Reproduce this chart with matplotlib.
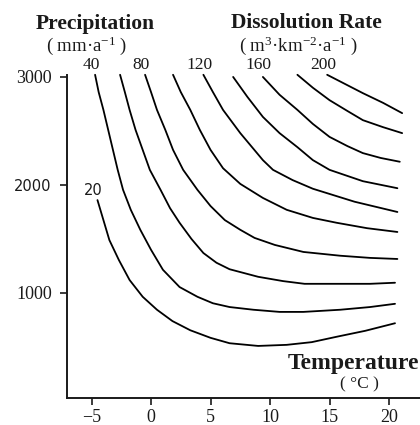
import matplotlib.pyplot as plt

plt.rcParams['mathtext.fontset'] = 'custom'
plt.rcParams['mathtext.rm'] = 'Liberation Serif'
plt.rcParams['mathtext.it'] = 'Liberation Serif:italic'
plt.rcParams['mathtext.bf'] = 'Liberation Serif:bold'

# ---- data: temperature (C) vs precipitation (mm/a) ----
t20 = [-4.5, -4.0, -3.5, -2.7, -1.8, -0.7, 0.5, 1.8, 3.3, 5.0, 6.6, 9.0, 11.4, 13.5, 15.6, 18.0, 20.5]
p20 = [1860, 1675, 1490, 1305, 1120, 965, 845, 740, 655, 585, 535, 510, 520, 545, 595, 650, 720]

t40 = [-4.7, -4.4, -4.0, -3.6, -3.2, -2.8, -2.35, -1.7, -0.9, 0.0, 1.0, 2.4, 3.9, 5.2, 6.6, 8.6, 10.8, 12.8, 15.9, 18.4, 20.5]
p40 = [3020, 2860, 2695, 2510, 2325, 2140, 1955, 1770, 1585, 1400, 1215, 1055, 965, 905, 870, 845, 825, 825, 845, 870, 900]

t60 = [-2.6, -2.2, -1.8, -1.3, -0.7, -0.1, 0.8, 1.6, 2.4, 3.4, 4.4, 5.5, 6.6, 9.0, 11.1, 12.9, 15.9, 18.4, 20.5]
p60 = [3020, 2860, 2695, 2510, 2325, 2140, 1955, 1785, 1650, 1500, 1370, 1280, 1220, 1150, 1110, 1085, 1085, 1085, 1095]

t80 = [-0.5, 0.0, 0.5, 1.2, 1.85, 2.7, 3.9, 5.0, 6.2, 7.5, 8.7, 10.4, 12.8, 15.9, 18.4, 20.7]
p80 = [3020, 2860, 2695, 2510, 2325, 2140, 1955, 1805, 1675, 1585, 1510, 1445, 1380, 1345, 1325, 1315]

t100 = [1.85, 2.5, 3.3, 4.1, 5.0, 6.05, 7.5, 9.4, 11.4, 13.6, 15.6, 18.15, 20.7]
p100 = [3020, 2860, 2695, 2510, 2325, 2155, 2010, 1880, 1770, 1695, 1650, 1600, 1565]

t120 = [4.4, 5.2, 6.05, 7.5, 9.4, 10.25, 11.9, 13.6, 17.1, 20.7]
p120 = [3020, 2860, 2695, 2480, 2230, 2140, 2045, 1965, 1845, 1750]

t140 = [6.9, 8.1, 9.4, 10.8, 12.3, 13.6, 15.0, 17.8, 20.7]
p140 = [3000, 2815, 2630, 2480, 2350, 2230, 2140, 2035, 1970]

t160 = [9.4, 10.8, 12.3, 13.6, 15.0, 16.5, 17.8, 19.3, 20.9]
p160 = [3000, 2835, 2695, 2565, 2445, 2360, 2295, 2250, 2215]

t180 = [12.3, 13.6, 15.0, 16.5, 17.8, 19.5, 21.1]
p180 = [3020, 2900, 2785, 2685, 2600, 2535, 2480]

t200 = [14.8, 16.3, 17.8, 19.5, 21.1]
p200 = [3020, 2935, 2850, 2760, 2665]

levels = [20, 40, 60, 80, 100, 120, 140, 160, 180, 200]
labeled = [20, 40, 80, 120, 160, 200]
curves_t = [t20, t40, t60, t80, t100, t120, t140, t160, t180, t200]
curves_p = [p20, p40, p60, p80, p100, p120, p140, p160, p180, p200]

xticks = [-5, 0, 5, 10, 15, 20]
yticks = [1000, 2000, 3000]

# ---- layout (pixel based) ----
W, H = 420, 425
SERIF = ['Liberation Serif', 'DejaVu Serif']
SANS = ['DejaVu Sans']
INK = '#1a1a1a'


def fx(px):
    return px / W


def fy(py):
    return 1 - py / H


fig = plt.figure(figsize=(W / 100, H / 100), dpi=100)
ax = fig.add_axes([fx(67), fy(398), fx(W) - fx(67), fy(75) - fy(398)])

for lev, t, p in zip(levels, curves_t, curves_p):
    ax.plot(t, p, color='black', lw=1.3, solid_joinstyle='round',
            solid_capstyle='round', clip_on=False)
    if lev in labeled:
        # labels along the top sit on one row; "20" sits above its own start
        anchor_p = p[0] if lev == 20 else max(p[0], 3020)
        ax.annotate(str(lev), xy=(t[0], anchor_p), xytext=(-4, 10),
                    textcoords='offset pixels', ha='center', va='center',
                    fontsize=10.5 if lev == 20 else 12.5,
                    family=SANS if lev == 20 else SERIF,
                    color=INK, annotation_clip=False)

ax.set_xlim(-7.06, 22.6)
ax.set_ylim(28, 3018)
ax.set_xticks(xticks)
ax.set_yticks(yticks)

for s in ['top', 'right']:
    ax.spines[s].set_visible(False)
for s in ['left', 'bottom']:
    ax.spines[s].set_linewidth(1.4)
    ax.spines[s].set_color(INK)

ax.tick_params(direction='out', length=5, width=1.2, colors=INK, labelsize=13)
ax.tick_params(axis='y', pad=6)
ax.tick_params(axis='x', pad=3)
for lab in ax.get_xticklabels() + ax.get_yticklabels():
    lab.set_family(SERIF)
for lab in ax.get_yticklabels():
    if lab.get_text() == '2000':
        lab.set_family(SANS)
        lab.set_fontsize(10.5)

# ---- titles ----
fig.text(fx(95), fy(24), 'Precipitation', ha='center', va='center',
         fontsize=15.5, fontweight='bold', family=SERIF, color=INK)
fig.text(fx(87), fy(46), '( mm·a$^{-1}$ )', ha='center', va='center',
         fontsize=13.5, family=SERIF, color=INK)
fig.text(fx(306), fy(23), 'Dissolution Rate', ha='center', va='center',
         fontsize=15.5, fontweight='bold', family=SERIF, color=INK)
fig.text(fx(298), fy(46), '( m$^{3}$·km$^{-2}$·a$^{-1}$ )', ha='center', va='center',
         fontsize=13.5, family=SERIF, color=INK)
fig.text(fx(288), fy(364), 'Temperature', ha='left', va='center',
         fontsize=17, fontweight='bold', family=SERIF, color=INK)
fig.text(fx(359), fy(384), '( °C )', ha='center', va='center',
         fontsize=12.5, family=SERIF, color=INK)

fig.savefig('out.png', dpi=100)
